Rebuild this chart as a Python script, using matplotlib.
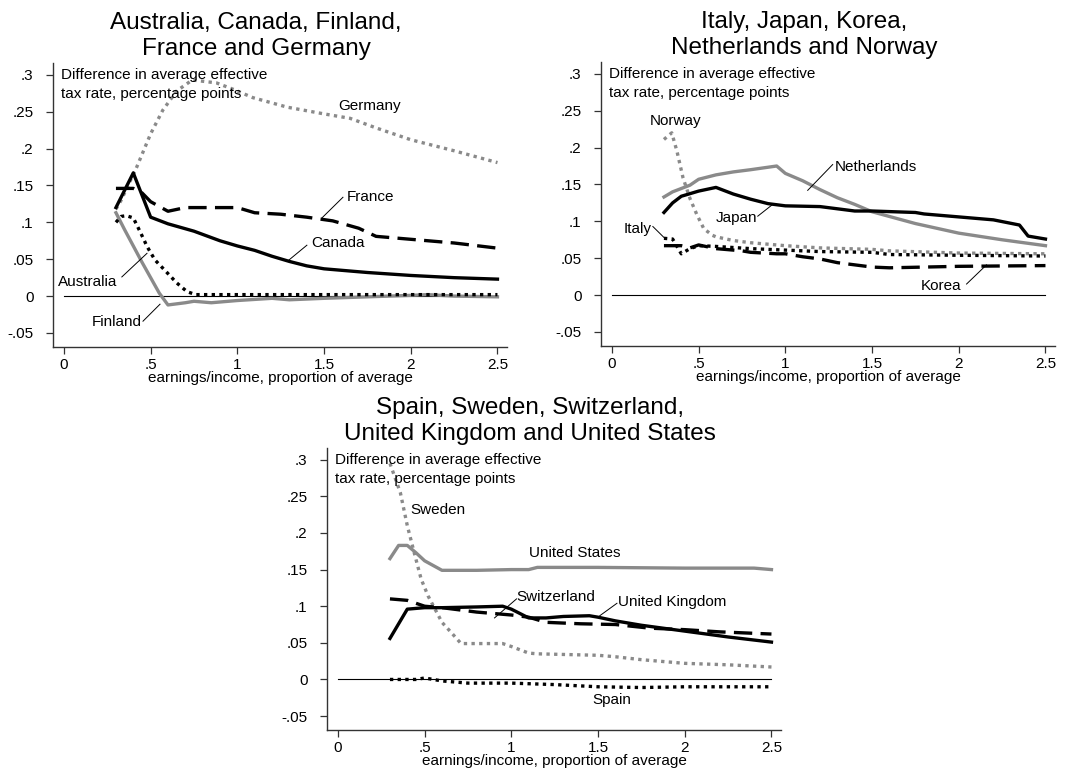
import matplotlib
matplotlib.use("Agg")
import matplotlib.pyplot as plt

plt.rcParams['font.family'] = ['Liberation Sans', 'DejaVu Sans']

GRAY = '#8a8a8a'

# ---------------- Panel 1 data ----------------
aus_x = [0.30, 0.33, 0.36, 0.40, 0.44, 0.48, 0.525, 0.59, 0.65, 0.71, 0.76, 1.0, 1.5, 2.0, 2.5]
aus_y = [0.100, 0.108, 0.109, 0.106, 0.087, 0.067, 0.049, 0.033, 0.018, 0.006, 0.002, 0.002, 0.002, 0.002, 0.002]
can_x = [0.30, 0.40, 0.50, 0.60, 0.75, 0.90, 1.00, 1.10, 1.20, 1.30, 1.40, 1.50, 1.75, 2.00, 2.25, 2.50]
can_y = [0.120, 0.167, 0.107, 0.098, 0.088, 0.075, 0.068, 0.062, 0.054, 0.047, 0.041, 0.037, 0.032, 0.028, 0.025, 0.023]
fin_x = [0.30, 0.35, 0.40, 0.45, 0.50, 0.55, 0.60, 0.70, 0.75, 0.85, 1.00, 1.20, 1.30, 1.50, 1.75, 2.00, 2.10, 2.25, 2.50]
fin_y = [0.113, 0.090, 0.068, 0.046, 0.025, 0.004, -0.012, -0.009, -0.007, -0.009, -0.006, -0.003, -0.005, -0.003, -0.001, 0.001, 0.002, 0.000, -0.001]
fra_x = [0.30, 0.40, 0.45, 0.50, 0.60, 0.70, 0.75, 1.00, 1.10, 1.25, 1.40, 1.55, 1.70, 1.80, 2.00, 2.25, 2.50]
fra_y = [0.146, 0.146, 0.140, 0.128, 0.115, 0.120, 0.120, 0.120, 0.113, 0.111, 0.107, 0.102, 0.092, 0.081, 0.077, 0.072, 0.065]
ger_x = [0.30, 0.33, 0.42, 0.50, 0.57, 0.65, 0.74, 0.88, 0.98, 1.09, 1.29, 1.50, 1.65, 1.80, 2.00, 2.25, 2.50]
ger_y = [0.118, 0.130, 0.175, 0.220, 0.252, 0.278, 0.293, 0.289, 0.280, 0.269, 0.256, 0.247, 0.241, 0.228, 0.212, 0.197, 0.181]

# ---------------- Panel 2 data ----------------
ita_x = [0.30, 0.35, 0.40, 0.45, 0.50, 0.60, 0.80, 1.00, 1.20, 1.50, 1.60, 2.00, 2.50]
ita_y = [0.077, 0.076, 0.056, 0.063, 0.067, 0.066, 0.063, 0.061, 0.059, 0.058, 0.055, 0.054, 0.053]
jap_x = [0.30, 0.35, 0.40, 0.50, 0.60, 0.70, 0.80, 0.90, 1.00, 1.20, 1.30, 1.40, 1.50, 1.75, 1.80, 2.00, 2.20, 2.35, 2.40, 2.50]
jap_y = [0.112, 0.125, 0.134, 0.141, 0.146, 0.137, 0.130, 0.124, 0.121, 0.120, 0.117, 0.114, 0.114, 0.112, 0.110, 0.106, 0.102, 0.095, 0.080, 0.076]
kor_x = [0.30, 0.40, 0.45, 0.50, 0.60, 0.75, 0.80, 0.95, 1.00, 1.10, 1.20, 1.30, 1.50, 1.60, 2.00, 2.50]
kor_y = [0.067, 0.067, 0.064, 0.068, 0.063, 0.060, 0.058, 0.056, 0.056, 0.052, 0.049, 0.044, 0.038, 0.037, 0.039, 0.040]
net_x = [0.30, 0.35, 0.45, 0.50, 0.60, 0.70, 0.80, 0.95, 1.00, 1.10, 1.20, 1.30, 1.40, 1.50, 1.75, 2.00, 2.25, 2.50]
net_y = [0.133, 0.140, 0.149, 0.157, 0.163, 0.167, 0.170, 0.175, 0.165, 0.155, 0.143, 0.132, 0.123, 0.113, 0.097, 0.084, 0.075, 0.067]
nor_x = [0.30, 0.345, 0.375, 0.41, 0.45, 0.49, 0.53, 0.58, 0.60, 0.70, 0.80, 1.00, 1.20, 1.50, 1.60, 2.00, 2.50]
nor_y = [0.211, 0.220, 0.195, 0.159, 0.131, 0.109, 0.090, 0.081, 0.079, 0.074, 0.071, 0.067, 0.064, 0.062, 0.060, 0.057, 0.056]

# ---------------- Panel 3 data ----------------
spa_x = [0.30, 0.40, 0.45, 0.50, 0.55, 0.60, 0.75, 1.00, 1.25, 1.50, 1.75, 2.00, 2.25, 2.50]
spa_y = [0.000, 0.000, 0.000, 0.002, 0.000, -0.002, -0.005, -0.005, -0.007, -0.010, -0.011, -0.010, -0.010, -0.010]
swe_x = [0.30, 0.36, 0.40, 0.44, 0.48, 0.52, 0.56, 0.60, 0.65, 0.71, 0.80, 0.95, 1.00, 1.10, 1.15, 1.50, 1.60, 1.75, 2.00, 2.25, 2.50]
swe_y = [0.295, 0.255, 0.210, 0.173, 0.137, 0.114, 0.096, 0.078, 0.065, 0.049, 0.049, 0.049, 0.045, 0.036, 0.035, 0.033, 0.031, 0.027, 0.022, 0.020, 0.017]
swi_x = [0.30, 0.40, 0.50, 0.60, 0.70, 0.80, 0.90, 1.00, 1.10, 1.20, 1.40, 1.60, 1.80, 2.00, 2.20, 2.50]
swi_y = [0.110, 0.108, 0.100, 0.098, 0.095, 0.092, 0.090, 0.088, 0.085, 0.078, 0.076, 0.075, 0.070, 0.068, 0.065, 0.062]
uk_x = [0.30, 0.40, 0.50, 0.60, 0.80, 0.95, 1.00, 1.10, 1.20, 1.30, 1.45, 1.50, 1.60, 1.75, 2.00, 2.25, 2.50]
uk_y = [0.056, 0.096, 0.098, 0.098, 0.099, 0.100, 0.096, 0.084, 0.084, 0.086, 0.087, 0.085, 0.080, 0.074, 0.066, 0.058, 0.051]
us_x = [0.30, 0.35, 0.40, 0.45, 0.50, 0.60, 0.80, 1.00, 1.10, 1.15, 1.50, 2.00, 2.40, 2.50]
us_y = [0.165, 0.183, 0.183, 0.173, 0.162, 0.149, 0.149, 0.150, 0.150, 0.153, 0.153, 0.152, 0.152, 0.150]

xticks = [0, 0.5, 1, 1.5, 2, 2.5]
xticklabels = ['0', '.5', '1', '1.5', '2', '2.5']
yticks = [-0.05, 0, 0.05, 0.1, 0.15, 0.2, 0.25, 0.3]
yticklabels = ['-.05', '0', '.05', '.1', '.15', '.2', '.25', '.3']

titles = ["Australia, Canada, Finland,\nFrance and Germany",
          "Italy, Japan, Korea,\nNetherlands and Norway",
          "Spain, Sweden, Switzerland,\nUnited Kingdom and United States"]

LW = 2.4
styles = {
    'solid_black': dict(color='black', lw=LW, linestyle='-'),
    'solid_gray': dict(color=GRAY, lw=LW, linestyle='-'),
    'dash_black': dict(color='black', lw=LW, linestyle=(0, (5.5, 2.5))),
    'dot_black': dict(color='black', lw=LW, linestyle=(0, (1.0, 1.3))),
    'dot_gray': dict(color=GRAY, lw=LW, linestyle=(0, (1.0, 1.3))),
}

FS = 11

fig = plt.figure(figsize=(10.66, 7.71), dpi=100)

W = 454 / 1066
H1 = (347 - 63) / 771
ax1 = fig.add_axes([53 / 1066, 1 - 347 / 771, W, H1])
ax2 = fig.add_axes([601 / 1066, 1 - 346 / 771, W, H1])
ax3 = fig.add_axes([327 / 1066, 1 - 730 / 771, W, (730 - 448) / 771])

def setup(ax, title):
    ax.set_xlim(-0.063, 2.555)
    ax.set_ylim(-0.069, 0.316)
    for s in ['top', 'right']:
        ax.spines[s].set_visible(False)
    for s in ['left', 'bottom']:
        ax.spines[s].set_linewidth(1.0)
        ax.spines[s].set_color('#333333')
    ax.set_xticks(xticks)
    ax.set_xticklabels(xticklabels)
    ax.set_yticks(yticks)
    ax.set_yticklabels(yticklabels)
    ax.tick_params(axis='both', direction='out', length=5, width=0.9,
                   labelsize=FS, color='#333333')
    ax.tick_params(axis='y', pad=9)
    ax.tick_params(axis='x', pad=3)
    ax.set_xlabel('earnings/income, proportion of average', fontsize=FS, labelpad=-1)
    ax.set_title(title, fontsize=17.5, pad=6, linespacing=1.2, x=0.447)
    ax.plot([0, 2.5], [0, 0], color='black', lw=0.8)
    ax.text(-0.017, 0.309, 'Difference in average effective\ntax rate, percentage points',
            ha='left', va='top', fontsize=FS, linespacing=1.45)

def label(ax, text, xy_text, xy_line=None, ha='center'):
    if xy_line is not None:
        ax.plot([xy_line[0][0], xy_line[1][0]], [xy_line[0][1], xy_line[1][1]],
                color='black', lw=0.7)
    ax.text(xy_text[0], xy_text[1], text, ha=ha, va='center', fontsize=FS)

# Panel 1
setup(ax1, titles[0])
ax1.plot(ger_x, ger_y, **styles['dot_gray'])
ax1.plot(fin_x, fin_y, **styles['solid_gray'])
ax1.plot(fra_x, fra_y, **styles['dash_black'])
ax1.plot(aus_x, aus_y, **styles['dot_black'])
ax1.plot(can_x, can_y, **styles['solid_black'])
label(ax1, 'Germany', (1.765, 0.258))
label(ax1, 'France', (1.765, 0.134), [(1.609, 0.134), (1.488, 0.106)])
label(ax1, 'Canada', (1.58, 0.072), [(1.401, 0.069), (1.298, 0.049)])
label(ax1, 'Australia', (0.138, 0.019), [(0.334, 0.026), (0.479, 0.058)])
label(ax1, 'Finland', (0.306, -0.035), [(0.456, -0.034), (0.554, -0.011)])

# Panel 2
setup(ax2, titles[1])
ax2.plot(nor_x, nor_y, **styles['dot_gray'])
ax2.plot(net_x, net_y, **styles['solid_gray'])
ax2.plot(kor_x, kor_y, **styles['dash_black'])
ax2.plot(ita_x, ita_y, **styles['dot_black'])
ax2.plot(jap_x, jap_y, **styles['solid_black'])
label(ax2, 'Norway', (0.369, 0.236))
label(ax2, 'Netherlands', (1.52, 0.174), [(1.273, 0.177), (1.129, 0.142)])
label(ax2, 'Japan', (0.72, 0.104), [(0.841, 0.107), (0.922, 0.122)])
label(ax2, 'Italy', (0.15, 0.090), [(0.236, 0.093), (0.305, 0.077)])
label(ax2, 'Korea', (1.90, 0.012), [(2.045, 0.015), (2.16, 0.041)])

# Panel 3
setup(ax3, titles[2])
ax3.plot(swe_x, swe_y, **styles['dot_gray'])
ax3.plot(us_x, us_y, **styles['solid_gray'])
ax3.plot(swi_x, swi_y, **styles['dash_black'])
ax3.plot(spa_x, spa_y, **styles['dot_black'])
ax3.plot(uk_x, uk_y, **styles['solid_black'])
label(ax3, 'Sweden', (0.579, 0.231))
label(ax3, 'United States', (1.366, 0.172))
label(ax3, 'Switzerland', (1.256, 0.113), [(1.03, 0.110), (0.903, 0.084)])
label(ax3, 'United Kingdom', (1.927, 0.106), [(1.609, 0.104), (1.51, 0.087)])
label(ax3, 'Spain', (1.58, -0.028))

fig.savefig('out.png', dpi=100)
